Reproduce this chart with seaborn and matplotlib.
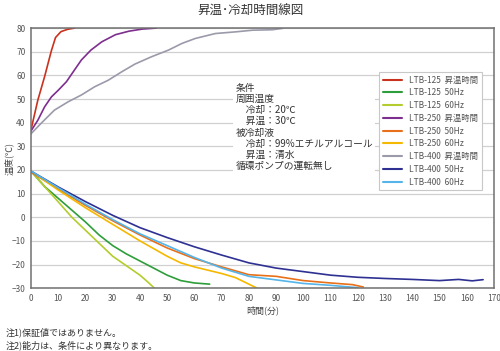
import pandas as pd
import numpy as np
import matplotlib
matplotlib.use('Agg')
import matplotlib.pyplot as plt
import seaborn as sns

# heating curves (time in min, temperature in C)
t_125_heat = [0, 2.5, 5, 7.5, 9, 11, 13.5, 16]
T_125_heat = [37, 49.5, 59.5, 70.5, 76, 78.5, 79.5, 80]
t_250_heat = [0, 2.5, 5, 7.5, 10, 13, 15.5, 18.5, 22, 26, 31, 36, 41, 46]
T_250_heat = [36.5, 41, 46.7, 50.9, 53.7, 57.3, 61.5, 66.5, 70.7, 74.2, 77.2, 78.7, 79.6, 80]
t_400_heat = [0, 3.7, 8.6, 13.6, 18.5, 23.4, 28.3, 33.3, 38.2, 44.3, 50.5, 55.4, 60.3, 67.7, 75.1, 81.3, 88.7, 92.4]
T_400_heat = [35.3, 39.7, 45.3, 48.8, 51.7, 55.2, 57.9, 61.5, 64.8, 67.9, 70.7, 73.5, 75.6, 77.7, 78.4, 79.1, 79.3, 79.9]

# cooling curves
t_125_50 = [0, 5, 10, 15, 20, 25, 30, 35, 40, 45, 50, 55, 60, 65.6]
T_125_50 = [19.5, 13, 8, 3, -2, -7.5, -12, -15.5, -18.5, -21.5, -24.5, -26.8, -27.8, -28.3]
t_125_60 = [0, 5, 10, 15, 20, 25, 30, 35, 40, 43, 45.3]
T_125_60 = [19.5, 13, 6.5, 0, -5.5, -11, -16.5, -20.5, -24.5, -27.5, -30]
t_250_50 = [0, 10, 20, 30, 40, 50, 60, 70, 80, 90, 100, 110, 118, 122]
T_250_50 = [19, 12, 5, -1.5, -7.5, -13, -17.5, -21, -24.3, -25, -26.8, -27.8, -28.5, -29.5]
t_250_60 = [0, 10, 20, 30, 40, 50, 55, 60, 70, 75, 80, 83]
T_250_60 = [19.5, 11.5, 4, -3, -10, -16.5, -19.3, -21, -23.8, -25.5, -28.3, -30]
t_400_50 = [0, 10, 20, 30, 40, 50, 60, 70, 80, 90, 100, 110, 120, 130, 140, 150, 157, 162, 166]
T_400_50 = [19.5, 12.8, 6.6, 0.8, -4.4, -8.6, -12.5, -16, -19.3, -21.5, -23, -24.5, -25.4, -25.9, -26.3, -26.8, -26.3, -26.9, -26.4]
t_400_60 = [0, 10, 20, 30, 40, 50, 60, 70, 80, 90, 100, 110, 120]
T_400_60 = [19.5, 12.5, 5.5, -1, -7, -12, -17, -21.5, -25, -26.5, -28, -28.8, -29.8]

series_names = ['LTB-125  昇温時間', 'LTB-125  50Hz', 'LTB-125  60Hz',
                'LTB-250  昇温時間', 'LTB-250  50Hz', 'LTB-250  60Hz',
                'LTB-400  昇温時間', 'LTB-400  50Hz', 'LTB-400  60Hz']
series_t = [t_125_heat, t_125_50, t_125_60, t_250_heat, t_250_50, t_250_60,
            t_400_heat, t_400_50, t_400_60]
series_T = [T_125_heat, T_125_50, T_125_60, T_250_heat, T_250_50, T_250_60,
            T_400_heat, T_400_50, T_400_60]
colors = ['#C8321E', '#2E9E3A', '#B4CC2E', '#7D2E8E', '#E8701A', '#F5B800',
          '#9A9AAA', '#2E3192', '#55B4E8']

x_ticks = list(range(0, 171, 10))
y_ticks = list(range(-30, 81, 10))

conditions = ("条件\n周囲温度\n　冷却：20℃\n　昇温：30℃\n被冷却液\n"
              "　冷却：99%エチルアルコール\n　昇温：清水\n循環ポンプの運転無し")
notes = ["注1)保証値ではありません。", "注2)能力は、条件により異なります。"]

rows = []
for name, ts, Ts in zip(series_names, series_t, series_T):
    for i, (t, T) in enumerate(zip(ts, Ts)):
        rows.append({'series': name, 'order': i, 'time': t, 'temp': T})
df = pd.DataFrame(rows)

sns.set_style('white')
plt.rcParams['font.family'] = ['Noto Sans CJK JP', 'DejaVu Sans']

fig = plt.figure(figsize=(5.0, 3.51), dpi=100)
ax = fig.add_axes([0.062, 0.179, 0.926, 0.741])

sns.lineplot(data=df, x='time', y='temp', hue='series', hue_order=series_names,
             palette=colors, sort=False, estimator=None, units='series',
             linewidth=1.2, ax=ax)

ax.set_xlim(0, 170)
ax.set_ylim(-30, 80)
ax.set_xticks(x_ticks)
ax.set_yticks(y_ticks)
ax.tick_params(labelsize=6, colors='#555555', length=0, pad=4)
ax.yaxis.grid(True, color='#d0d0d0', linewidth=0.9)
ax.xaxis.grid(False)
for s in ax.spines.values():
    s.set_color('#707070')
    s.set_linewidth(1.1)

ax.set_xlabel('時間(分)', fontsize=6.5, color='#444444', labelpad=2)
ax.set_ylabel('温度(℃)', fontsize=6.5, color='#444444')
ax.yaxis.set_label_coords(-0.036, 0.5)
fig.suptitle('昇温･冷却時間線図', fontsize=9, color='#333333', y=0.985)

ax.text(0.442, 0.79, conditions, transform=ax.transAxes, fontsize=7,
        color='#333333', va='top', ha='left', linespacing=1.15,
        bbox=dict(facecolor='white', edgecolor='none', pad=2))

leg = ax.legend(loc='upper left', bbox_to_anchor=(0.752, 0.832), borderaxespad=0,
                fontsize=6, frameon=True, fancybox=False, framealpha=1,
                edgecolor='#c8c8c8', handlelength=2.3, labelspacing=0.45,
                borderpad=0.45)
leg.get_frame().set_linewidth(0.8)
for txt in leg.get_texts():
    txt.set_color('#555555')
for line in leg.get_lines():
    line.set_linewidth(1.5)

fig.text(0.012, 0.052, notes[0], fontsize=6.5, color='#333333', va='center')
fig.text(0.012, 0.015, notes[1], fontsize=6.5, color='#333333', va='center')

fig.savefig('out.png', dpi=100)
